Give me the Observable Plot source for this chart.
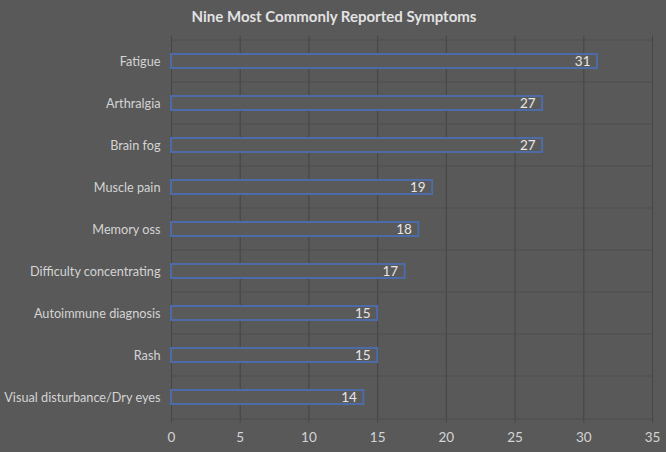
<!DOCTYPE html>
<html><head><meta charset="utf-8">
<script src="https://cdn.jsdelivr.net/npm/d3@7"></script>
<script src="https://cdn.jsdelivr.net/npm/@observablehq/plot@0.6"></script>
<style>
body{margin:0;background:#595959;width:666px;height:452px;overflow:hidden;font-family:Lato,"Open Sans",sans-serif;}
#title{height:32px;line-height:32px;text-align:center;color:#e2e2e2;font-weight:bold;font-size:15px;padding-left:2px;}
</style></head><body>
<div id="title">Nine Most Commonly Reported Symptoms</div>
<div id="chart"></div>
<script>
const symptoms = ["Fatigue","Arthralgia","Brain fog","Muscle pain","Memory oss","Difficulty concentrating","Autoimmune diagnosis","Rash","Visual disturbance/Dry eyes"];
const counts = [31,27,27,19,18,17,15,15,14];
const xTicks = [0,5,10,15,20,25,30,35];
const data = symptoms.map((s,i)=>({symptom:s,count:counts[i]}));
const mT = 3.75, mB = 29.65, H = 420;
const step = (H-mT-mB)/symptoms.length;
const chart = Plot.plot({
  width:666, height:H,
  marginTop:mT, marginBottom:mB, marginLeft:171, marginRight:14,
  style:{background:"#595959", color:"#d4d4d4", fontFamily:"Lato, 'Open Sans', sans-serif", fontSize:"13.5px"},
  x:{domain:[0,35], ticks:xTicks, tickSize:0, tickPadding:10, label:null},
  y:{domain:symptoms, paddingInner:0.66, paddingOuter:0.33, tickSize:0, tickPadding:11, label:null},
  marks:[
    Plot.ruleX(xTicks,{stroke:"#454545", strokeWidth:1}),
    Plot.ruleY(symptoms,{y:d=>d, dy:-step/2, x1:0, x2:35, stroke:"#4d4d4d", strokeWidth:1}),
    Plot.ruleY(symptoms.slice(-1),{y:d=>d, dy:step/2, x1:0, x2:35, stroke:"#4d4d4d", strokeWidth:1}),
    Plot.barX(data,{y:"symptom", x:"count", fill:"#5a5a5a", stroke:"#4d6ba6", strokeWidth:2}),
    Plot.text(data,{y:"symptom", x:"count", text:d=>String(d.count), textAnchor:"end", dx:-7, fill:"#e6e6e6", fontSize:13.5})
  ]
});
chart.querySelectorAll('[aria-label="y-axis tick label"] text').forEach(t=>t.style.fontSize="12.7px");
document.getElementById("chart").appendChild(chart);
</script>
</body></html>
